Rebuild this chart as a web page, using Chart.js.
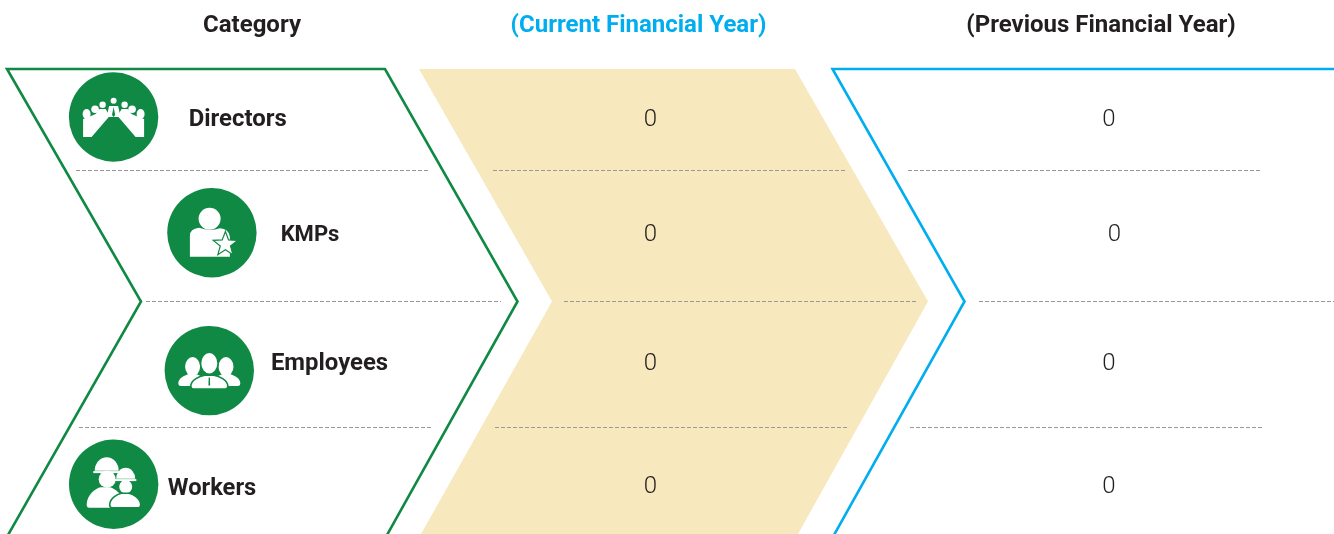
<!DOCTYPE html>
<html>
<head>
<meta charset="utf-8">
<title>Category by financial year</title>
<style>
  html, body { margin: 0; padding: 0; background: #fff; overflow: hidden; }
  canvas { display: block; }
</style>
<script src="https://cdn.jsdelivr.net/npm/chart.js@4"></script>
</head>
<body>
<canvas id="chart" width="1334" height="534"></canvas>
<script>
// data
const headers = ["Category", "(Current Financial Year)", "(Previous Financial Year)"];
const categories = ["Directors", "KMPs", "Employees", "Workers"];
const currentYear = [0, 0, 0, 0];
const previousYear = [0, 0, 0, 0];

// layout, in the page's pixels (the axes run 0-1334 and 0-534)
const rowY = [120, 235, 364, 487];
const currentX = [650.5, 650.5, 650.5, 650.5];
const previousX = [1109, 1114.5, 1109, 1109];
const headerX = [252, 638.5, 1101];
const headerColors = ["#231f20", "#00aeef", "#231f20"];
const labelX = [237.7, 310, 329.5, 212];
const labelY = [120.5, 235.5, 364.5, 489];
const labelSize = [23.9, 22, 23.9, 23.7];
const iconX = [113.6, 211.9, 209.3, 113.7];
const iconY = [117, 232.8, 370.6, 484.2];
const dividers = [
  [170.5, 76, 429], [170.5, 493, 846], [170.5, 908, 1261],
  [301.5, 146, 501], [301.5, 564, 918], [301.5, 979, 1334],
  [427.5, 79, 432], [427.5, 495, 848], [427.5, 910, 1264]
];

const GREEN = "#0f8944";
const BLUE = "#00aeef";
const TAN = "#f7e8bd";
const INK = "#231f20";

function pts(list) {
  return list.map(p => ({ x: p[0], y: p[1] }));
}

function shape(list, color, width, extra) {
  return Object.assign({
    data: pts(list),
    showLine: true,
    tension: 0,
    pointRadius: 0,
    borderColor: color,
    borderWidth: width,
    borderJoinStyle: "miter",
    clip: false
  }, extra);
}

const datasets = [];

// current year band
datasets.push(shape(
  [[419, 69], [795, 69], [928, 301.5], [798, 534], [421, 534], [552, 301.5], [419, 69]],
  TAN, 0, { fill: "shape", backgroundColor: TAN, order: 9 }
));
// category outline
datasets.push(shape(
  [[8, 535], [141, 301.5], [7, 69], [385, 69], [517.5, 301.5], [387, 535]],
  GREEN, 2.6, { order: 8 }
));
// previous year outline
datasets.push(shape(
  [[1334, 69], [832.5, 69], [964.5, 301.5], [834, 535]],
  BLUE, 2.6, { order: 8 }
));
// dashed row lines
dividers.forEach(d => {
  datasets.push(shape([[d[1], d[0]], [d[2], d[0]]], "#999999", 1.1, { borderDash: [4, 2], order: 7 }));
});
// icon discs
datasets.push({
  data: iconX.map((x, i) => ({ x: x, y: iconY[i] })),
  pointRadius: 44.7,
  pointBackgroundColor: GREEN,
  pointBorderWidth: 0,
  clip: false,
  order: 6
});
// the values, carried as points and written by the plugin below
datasets.push({
  data: currentYear.map((v, i) => ({ x: currentX[i], y: rowY[i], v: v })),
  pointRadius: 0,
  valueSeries: true,
  order: 1
});
datasets.push({
  data: previousYear.map((v, i) => ({ x: previousX[i], y: rowY[i], v: v })),
  pointRadius: 0,
  valueSeries: true,
  order: 1
});

function circle(ctx, x, y, r) {
  ctx.beginPath();
  ctx.arc(x, y, r, 0, Math.PI * 2);
  ctx.fill();
}

function oval(ctx, x, y, rx, ry) {
  ctx.beginPath();
  ctx.ellipse(x, y, rx, ry, 0, 0, Math.PI * 2);
  ctx.fill();
}

function poly(ctx, list) {
  ctx.beginPath();
  list.forEach((p, i) => (i ? ctx.lineTo(p[0], p[1]) : ctx.moveTo(p[0], p[1])));
  ctx.closePath();
  ctx.fill();
}

// shoulders: rounded top and slightly rounded lower corners
function shoulders(ctx, l, r, top, base) {
  const c = (l + r) / 2;
  const w = (r - l) / 2;
  ctx.beginPath();
  ctx.moveTo(l + 2.5, base);
  ctx.quadraticCurveTo(l, base, l, base - 3);
  ctx.bezierCurveTo(l, top + (base - top) * 0.35, c - w * 0.5, top + 1, c - w * 0.25, top);
  ctx.lineTo(c + w * 0.25, top);
  ctx.bezierCurveTo(c + w * 0.5, top + 1, r, top + (base - top) * 0.35, r, base - 3);
  ctx.quadraticCurveTo(r, base, r - 2.5, base);
  ctx.closePath();
  ctx.fill();
}

function drawDirectors(ctx) {
  [[0, -16.3, 3], [-11, -12.3, 3.2], [11, -12.3, 3.2], [-18.5, -7.7, 3.8], [18.5, -7.7, 3.8]].forEach(h => circle(ctx, h[0], h[1], h[2]));
  oval(ctx, -27, -3, 4, 5);
  oval(ctx, 27, -3, 4, 5);
  [-1, 1].forEach(s => {
    poly(ctx, [[s * 30.5, 20], [s * 22, 20], [s * 4, -1], [s * 8, -8], [s * 14, -8], [s * 18, -3], [s * 25, 0], [s * 30.5, 2]]);
  });
  poly(ctx, [[-4.5, -11], [4.5, -11], [7, 0], [-7, 0]]);
  ctx.fillStyle = GREEN;
  poly(ctx, [[0, -10], [1.6, -2], [0, 0], [-1.6, -2]]);
  poly(ctx, [[0, -0.5], [-16.5, 21], [16.5, 21]]);
}

function drawKmp(ctx) {
  circle(ctx, -2.3, -14, 11);
  ctx.beginPath();
  ctx.moveTo(-22, 24);
  ctx.lineTo(-22, 3);
  ctx.quadraticCurveTo(-22, -4, -13, -5);
  ctx.quadraticCurveTo(-2, -1, 8, -4.5);
  ctx.quadraticCurveTo(17, -4, 18, 4);
  ctx.lineTo(18, 24);
  ctx.closePath();
  ctx.fill();
  // star
  const star = [];
  for (let i = 0; i < 10; i++) {
    const r = i % 2 ? 5.4 : 12.8;
    const a = -Math.PI / 2 + i * Math.PI / 5;
    star.push([13.5 + r * Math.cos(a), 11.5 + r * Math.sin(a)]);
  }
  poly(ctx, star);
  ctx.strokeStyle = GREEN;
  ctx.lineWidth = 1.2;
  ctx.stroke();
}

function drawEmployees(ctx) {
  oval(ctx, -16.7, -4, 7.5, 9.5);
  oval(ctx, 16.7, -4, 7.5, 9.5);
  shoulders(ctx, -31, -3, 3.5, 15.5);
  shoulders(ctx, 3, 31, 3.5, 15.5);
  ctx.strokeStyle = GREEN;
  ctx.lineWidth = 1.6;
  ctx.beginPath();
  ctx.ellipse(0, -7.3, 8.8, 11, 0, 0, Math.PI * 2);
  ctx.fill();
  ctx.stroke();
  shoulders(ctx, -18.5, 18.5, 4.5, 18.5);
  ctx.stroke();
  ctx.fillStyle = GREEN;
  poly(ctx, [[-0.6, 7], [0.6, 7], [0.9, 15], [-0.9, 15]]);
}

function hardHat(ctx, x, y, rx, ry) {
  ctx.beginPath();
  ctx.ellipse(x, y, rx, ry, 0, Math.PI, 0);
  ctx.closePath();
  ctx.fill();
  const b = rx * 1.12;
  poly(ctx, [[x - b, y + 0.4], [x + b, y + 0.4], [x + b, y + 2.4], [x - b, y + 2.4]]);
}

function drawWorkers(ctx) {
  hardHat(ctx, -7, -13.5, 12, 13.5);
  oval(ctx, -6.5, -5, 8.5, 8.5);
  shoulders(ctx, -27, 10, 3, 23.5);
  ctx.strokeStyle = GREEN;
  ctx.lineWidth = 1.6;
  ctx.beginPath();
  ctx.ellipse(12, 2.5, 7.3, 7.5, 0, 0, Math.PI * 2);
  ctx.fill();
  ctx.stroke();
  shoulders(ctx, -4, 27, 9, 23.5);
  ctx.stroke();
  hardHat(ctx, 12, -5.5, 9.5, 11);
}

const iconDrawers = [drawDirectors, drawKmp, drawEmployees, drawWorkers];

const infographicText = {
  id: "infographicText",
  afterDatasetsDraw(chart) {
    const ctx = chart.ctx;
    const xs = chart.scales.x;
    const ys = chart.scales.y;

    ctx.save();
    ctx.textAlign = "center";
    ctx.textBaseline = "middle";

    headers.forEach((h, i) => {
      ctx.font = "700 24px Roboto";
      ctx.fillStyle = headerColors[i];
      ctx.fillText(h, xs.getPixelForValue(headerX[i]), ys.getPixelForValue(26));
    });

    categories.forEach((c, i) => {
      ctx.font = "700 " + labelSize[i] + "px Roboto";
      ctx.fillStyle = INK;
      ctx.fillText(c, xs.getPixelForValue(labelX[i]), ys.getPixelForValue(labelY[i]));
    });

    ctx.font = "300 24px Roboto";
    ctx.fillStyle = INK;
    chart.data.datasets.forEach(ds => {
      if (!ds.valueSeries) return;
      ds.data.forEach(p => {
        ctx.fillText(String(p.v), xs.getPixelForValue(p.x), ys.getPixelForValue(p.y));
      });
    });

    iconDrawers.forEach((draw, i) => {
      ctx.save();
      ctx.translate(xs.getPixelForValue(iconX[i]), ys.getPixelForValue(iconY[i]));
      ctx.fillStyle = "#fff";
      draw(ctx);
      ctx.restore();
    });
    ctx.restore();
  }
};

new Chart(document.getElementById("chart"), {
  type: "scatter",
  data: { datasets: datasets },
  options: {
    responsive: false,
    animation: false,
    devicePixelRatio: 1,
    layout: { padding: 0, autoPadding: false },
    plugins: { legend: { display: false }, tooltip: { enabled: false } },
    scales: {
      x: { type: "linear", min: 0, max: 1334, display: false },
      y: { type: "linear", min: 0, max: 534, reverse: true, display: false }
    }
  },
  plugins: [infographicText]
});
</script>
</body>
</html>
